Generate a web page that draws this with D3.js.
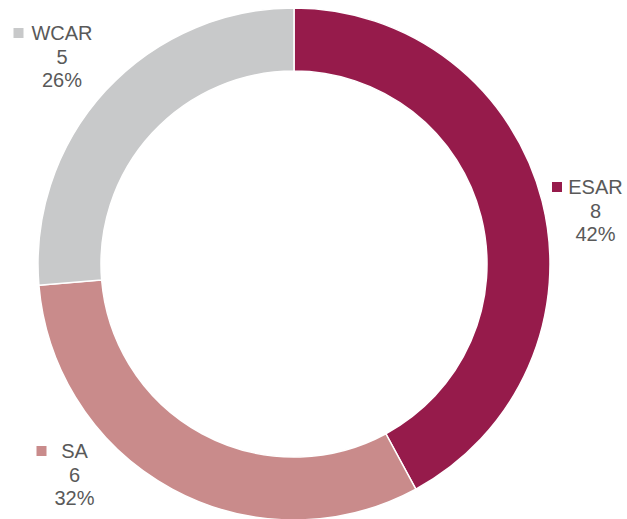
<!DOCTYPE html>
<html>
<head>
<meta charset="utf-8">
<script src="https://cdn.jsdelivr.net/npm/d3@7"></script>
<style>
  html, body { margin: 0; padding: 0; background: #fff; }
  svg { display: block; }
  text { font-family: "Liberation Sans", Arial, sans-serif; fill: #595959; }
</style>
</head>
<body>
<svg id="chart" width="627" height="519"></svg>
<script>
// Regional counts
const regions = ["ESAR", "SA", "WCAR"];
const counts = [8, 6, 5];
const colors = ["#961b4b", "#c98b8b", "#c8c9ca"];

// Label anchors: centre x of the region name, its baseline, and the legend swatch's left x
const labelPos = [[595.5, 194, 552], [74.5, 458, 36.5], [62, 40, 13.5]];

const width = 627, height = 519;
const cx = 294, cy = 264;
const outerR = 256, innerR = 193;

const svg = d3.select("#chart");
const total = d3.sum(counts);
const data = regions.map((r, i) => ({ region: r, value: counts[i], color: colors[i], pos: labelPos[i] }));

const pie = d3.pie().value(d => d.value).sort(null);
const arc = d3.arc().innerRadius(innerR).outerRadius(outerR);

const g = svg.append("g").attr("transform", `translate(${cx},${cy})`);
g.selectAll("path")
  .data(pie(data))
  .join("path")
  .attr("d", arc)
  .attr("fill", d => d.data.color)
  .attr("stroke", "#fff")
  .attr("stroke-width", 1.5);

const fmt = d3.format(".0%");
const lineH = 23.5;
const labels = svg.selectAll("g.lbl")
  .data(data)
  .join("g")
  .attr("class", "lbl");

labels.each(function(d) {
  const sel = d3.select(this);
  const [x, y, sx] = d.pos;
  sel.append("rect")
    .attr("x", sx).attr("y", y - 12)
    .attr("width", 10).attr("height", 10)
    .attr("fill", d.color);
  sel.append("text")
    .attr("x", x).attr("y", y)
    .attr("text-anchor", "middle")
    .attr("font-size", 20)
    .text(d.region);
  sel.append("text")
    .attr("x", x).attr("y", y + lineH)
    .attr("text-anchor", "middle")
    .attr("font-size", 20)
    .text(d.value);
  sel.append("text")
    .attr("x", x).attr("y", y + 2 * lineH)
    .attr("text-anchor", "middle")
    .attr("font-size", 20)
    .text(fmt(d.value / total));
});
</script>
</body>
</html>
